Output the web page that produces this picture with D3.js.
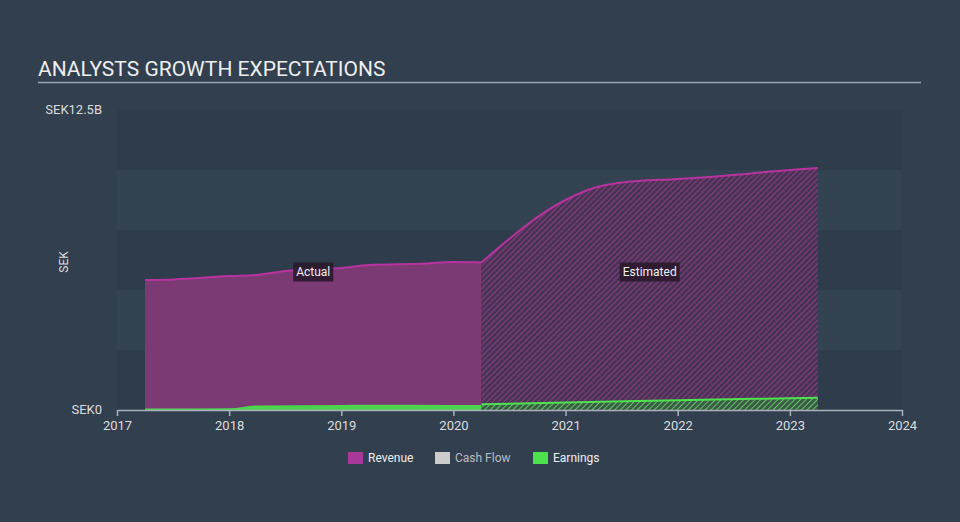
<!DOCTYPE html>
<html><head><meta charset="utf-8">
<script src="https://cdn.jsdelivr.net/npm/d3@7"></script>
<style>
html,body{margin:0;padding:0;background:#323f4e;}
svg{display:block;font-family:Roboto,"Open Sans",sans-serif;}
</style></head>
<body>
<svg id="chart" width="960" height="522"></svg>
<script>
// ---- data ----
const revenueActualX = [2017.25, 2017.5, 2018.0, 2018.25, 2018.5, 2019.0, 2019.25, 2019.75, 2020.0, 2020.25];
const revenueActualY = [5.42, 5.44, 5.58, 5.63, 5.79, 5.92, 6.04, 6.10, 6.17, 6.15];
const revenueEstX = [2020.25, 2021.0, 2021.25, 2021.5, 2022.0, 2022.25, 2023.0, 2023.25];
const revenueEstY = [6.15, 8.75, 9.25, 9.48, 9.63, 9.70, 10.0, 10.08];
const earningsActualX = [2017.25, 2018.0, 2018.25, 2019.0, 2019.25, 2020.0, 2020.25];
const earningsActualY = [0.06, 0.07, 0.19, 0.21, 0.22, 0.21, 0.21];
const earningsEstX = [2020.25, 2021.0, 2022.0, 2023.0, 2023.25];
const earningsEstY = [0.24, 0.31, 0.41, 0.49, 0.51];
const xTicks = [2017, 2018, 2019, 2020, 2021, 2022, 2023, 2024];
const yTickValues = [0, 12.5];
const yTickLabels = ["SEK0", "SEK12.5B"];
const legendNames = ["Revenue", "Cash Flow", "Earnings"];
const legendColors = ["#a8389a", "#cccccc", "#4ee14e"];

(function () {
const svg = d3.select("#chart");
const W = 960, H = 522;
const pL = 117, pR = 902, pT = 110, pB = 410;

const x = d3.scaleLinear().domain([2017, 2024]).range([pL, pR]);
const y = d3.scaleLinear().domain([0, 12.5]).range([pB, pT]);

const defs = svg.append("defs");
const pr = defs.append("pattern").attr("id", "hatchRev").attr("patternUnits", "userSpaceOnUse")
  .attr("width", 4).attr("height", 4).attr("patternTransform", "rotate(45)");
pr.append("rect").attr("width", 4).attr("height", 4).attr("fill", "#463452");
pr.append("line").attr("x1", 0).attr("y1", 0).attr("x2", 0).attr("y2", 4)
  .attr("stroke", "#8a3a84").attr("stroke-width", 2.2);
const pe = defs.append("pattern").attr("id", "hatchEarn").attr("patternUnits", "userSpaceOnUse")
  .attr("width", 4).attr("height", 4).attr("patternTransform", "rotate(45)");
pe.append("rect").attr("width", 4).attr("height", 4).attr("fill", "#3c5a48");
pe.append("line").attr("x1", 0).attr("y1", 0).attr("x2", 0).attr("y2", 4)
  .attr("stroke", "#5fc75f").attr("stroke-width", 2);
defs.append("clipPath").attr("id", "lblClip").append("rect")
  .attr("x", 46).attr("y", 0).attr("width", W).attr("height", H);

// title
svg.append("text").attr("x", 38).attr("y", 76).attr("fill", "#eeeeee")
  .attr("font-size", 21).text("ANALYSTS GROWTH EXPECTATIONS");
svg.append("line").attr("x1", 38).attr("x2", 921).attr("y1", 82.5).attr("y2", 82.5)
  .attr("stroke", "#9aa3ad").attr("stroke-width", 1.5);

// background bands
const bandEdges = [0, 2.5, 5, 7.5, 10, 12.5];
for (let i = 0; i < 5; i++) {
  svg.append("rect").attr("x", pL).attr("width", pR - pL)
    .attr("y", y(bandEdges[i + 1])).attr("height", y(bandEdges[i]) - y(bandEdges[i + 1]))
    .attr("fill", i % 2 === 0 ? "#2f3c4b" : "#344352");
}

const pts = (xs, ys) => xs.map((d, i) => [d, ys[i]]);
const area = d3.area().x(d => x(d[0])).y0(y(0)).y1(d => y(d[1])).curve(d3.curveMonotoneX);
const line = d3.line().x(d => x(d[0])).y(d => y(d[1])).curve(d3.curveMonotoneX);

// revenue
svg.append("path").datum(pts(revenueActualX, revenueActualY)).attr("d", area).attr("fill", "#7b3a74");
svg.append("path").datum(pts(revenueEstX, revenueEstY)).attr("d", area).attr("fill", "url(#hatchRev)");
svg.append("path").datum(pts(revenueActualX, revenueActualY)).attr("d", line)
  .attr("fill", "none").attr("stroke", "#b8339f").attr("stroke-width", 2);
svg.append("path").datum(pts(revenueEstX, revenueEstY)).attr("d", line)
  .attr("fill", "none").attr("stroke", "#b8339f").attr("stroke-width", 2);

// earnings
svg.append("path").datum(pts(earningsActualX, earningsActualY)).attr("d", area).attr("fill", "#4dd44d");
svg.append("path").datum(pts(earningsEstX, earningsEstY)).attr("d", area).attr("fill", "url(#hatchEarn)");
svg.append("path").datum(pts(earningsEstX, earningsEstY)).attr("d", line)
  .attr("fill", "none").attr("stroke", "#4ee14e").attr("stroke-width", 2);

// labels Actual / Estimated
function tag(cx, cy, txt) {
  const g = svg.append("g");
  const t = g.append("text").attr("x", cx).attr("y", cy + 4).attr("text-anchor", "middle")
    .attr("fill", "#f0f0f0").attr("font-size", 12).text(txt);
  const bb = t.node().getBBox();
  g.insert("rect", "text").attr("x", bb.x - 3).attr("y", cy - 9.5).attr("width", bb.width + 6)
    .attr("height", 19).attr("fill", "#2a1a2c").attr("opacity", 0.9);
}
tag((x(revenueActualX[0]) + x(revenueActualX[revenueActualX.length - 1])) / 2, 272, "Actual");
tag((x(revenueEstX[0]) + x(revenueEstX[revenueEstX.length - 1])) / 2, 272, "Estimated");

// x axis
const xa = svg.append("g").attr("transform", `translate(0,${pB})`)
  .call(d3.axisBottom(x).tickValues(xTicks).tickFormat(d3.format("d")).tickSize(6).tickSizeOuter(0));
xa.select(".domain").attr("stroke", "#a9b1ba").attr("stroke-width", 1.5);
xa.selectAll(".tick line").attr("stroke", "#a9b1ba").attr("stroke-width", 1.5);
xa.selectAll(".tick text").attr("fill", "#dddddd").attr("font-size", 13).attr("dy", "0.85em")
  .attr("font-family", "Roboto, sans-serif");

// y tick labels
const yl = svg.append("g").attr("clip-path", "url(#lblClip)");
yTickValues.forEach((v, i) => {
  yl.append("text").attr("x", 102).attr("y", y(v) + 4).attr("text-anchor", "end")
    .attr("fill", "#dddddd").attr("font-size", 13).text(yTickLabels[i]);
});
svg.append("text").attr("transform", "translate(68,262) rotate(-90)").attr("text-anchor", "middle")
  .attr("fill", "#dddddd").attr("font-size", 12).text("SEK");

// legend
const lx = [348, 435, 533];
legendNames.forEach((n, i) => {
  svg.append("rect").attr("x", lx[i]).attr("y", 452).attr("width", 15).attr("height", 12)
    .attr("fill", legendColors[i]);
  svg.append("text").attr("x", lx[i] + 20).attr("y", 462).attr("fill", i === 1 ? "#b8bcc2" : "#eeeeee")
    .attr("font-size", 12).text(n);
});
})();
</script>
</body></html>
